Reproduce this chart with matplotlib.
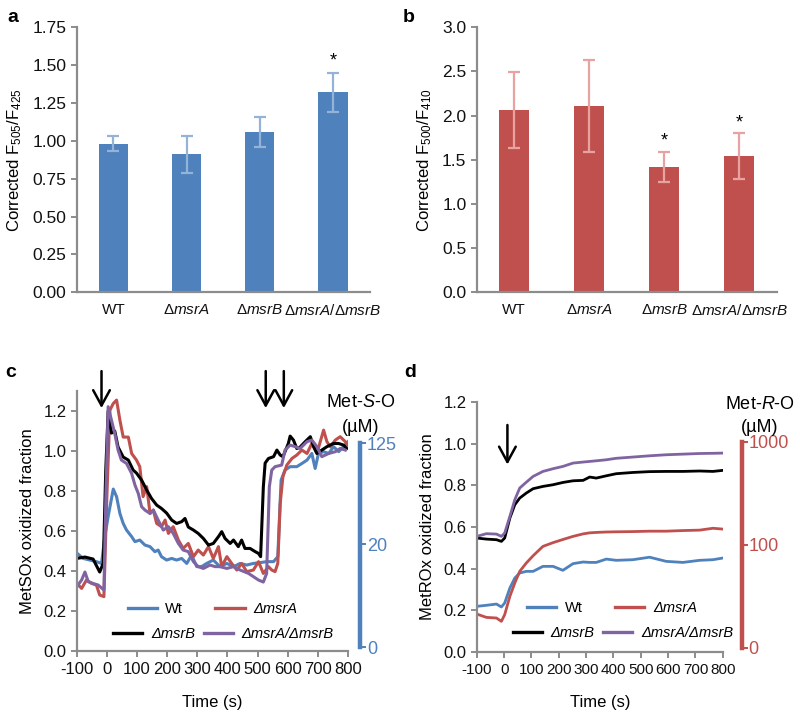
import matplotlib
matplotlib.use("Agg")
import matplotlib.pyplot as plt
from matplotlib.lines import Line2D
import numpy as np

plt.rcParams['font.family'] = ['Liberation Sans', 'DejaVu Sans']
plt.rcParams['mathtext.fontset'] = 'custom'
plt.rcParams['mathtext.rm'] = 'Liberation Sans'
plt.rcParams['mathtext.it'] = 'Liberation Sans:italic'
plt.rcParams['mathtext.bf'] = 'Liberation Sans:bold'
plt.rcParams['axes.unicode_minus'] = False

# ---- bar panels (a, b) ----
strains = ['WT', r'Δ$\mathit{msrA}$', r'Δ$\mathit{msrB}$', r'Δ$\mathit{msrA}$/Δ$\mathit{msrB}$']
a_vals = [0.98, 0.91, 1.06, 1.32]
a_errs = [0.05, 0.125, 0.10, 0.13]
a_star = [False, False, False, True]
b_vals = [2.06, 2.11, 1.42, 1.54]
b_errs = [0.43, 0.52, 0.17, 0.26]
b_star = [False, False, True, True]

# ---- panel c: Met-S-O time courses ----
c_wt_t = [-100, -79, -57, -35, -18, -7, 4, 21, 32, 43, 54, 65, 82, 93, 109, 126, 143, 159, 170, 181,
          198, 215, 231, 248, 265, 281, 298, 314, 331, 353, 375, 398, 420, 442, 464, 486, 508, 530,
          553, 567, 578, 591, 608, 630, 647, 664, 680, 691, 702, 719, 736, 752, 769, 785, 800]
c_wt_v = [0.49, 0.463, 0.455, 0.447, 0.438, 0.572, 0.672, 0.81, 0.772, 0.688, 0.638, 0.605, 0.572,
          0.547, 0.555, 0.53, 0.522, 0.497, 0.505, 0.472, 0.455, 0.463, 0.455, 0.463, 0.438, 0.48,
          0.422, 0.422, 0.438, 0.455, 0.422, 0.438, 0.422, 0.438, 0.43, 0.438, 0.442, 0.447, 0.447,
          0.472, 0.855, 0.905, 0.922, 0.922, 0.938, 0.955, 0.988, 0.913, 0.988, 0.997, 0.988, 1.022,
          0.997, 1.022, 1.047]
c_a_t = [-100, -84, -68, -51, -35, -24, -10, -1, 10, 21, 32, 43, 54, 71, 82, 98, 109, 120, 132, 143,
         154, 165, 181, 193, 204, 220, 237, 253, 270, 287, 303, 320, 337, 353, 370, 381, 398, 414,
         431, 447, 464, 486, 503, 519, 536, 547, 558, 567, 575, 584, 597, 614, 630, 647, 664, 680,
         697, 708, 719, 730, 741, 758, 774, 791, 800]
c_a_v = [0.338, 0.313, 0.355, 0.338, 0.33, 0.28, 0.272, 0.74, 1.205, 1.238, 1.255, 1.155, 1.07, 1.07,
         0.988, 0.955, 0.922, 0.772, 0.822, 0.688, 0.705, 0.638, 0.622, 0.655, 0.588, 0.622, 0.555,
         0.513, 0.538, 0.472, 0.505, 0.48, 0.522, 0.463, 0.522, 0.422, 0.472, 0.438, 0.405, 0.438,
         0.397, 0.405, 0.447, 0.388, 0.422, 0.405, 0.397, 0.438, 0.738, 0.872, 0.93, 0.963, 0.98,
         1.005, 0.988, 1.038, 0.988, 1.047, 1.105, 1.047, 1.022, 1.055, 1.072, 1.047, 1.03]
c_b_t = [-100, -73, -46, -24, -12, -4, 4, 15, 26, 37, 54, 71, 87, 98, 115, 132, 148, 165, 181, 198,
         215, 231, 248, 259, 270, 287, 303, 320, 337, 353, 370, 381, 392, 409, 420, 436, 447, 458,
         475, 492, 503, 510, 519, 525, 536, 553, 564, 575, 584, 591, 602, 608, 619, 630, 641, 658,
         675, 686, 697, 713, 730, 752, 769, 785, 796]
c_b_v = [0.463, 0.47, 0.46, 0.395, 0.44, 0.9, 1.2, 1.09, 1.10, 1.02, 0.97, 0.955, 0.905, 0.89, 0.855,
         0.805, 0.763, 0.73, 0.713, 0.69, 0.655, 0.638, 0.647, 0.663, 0.62, 0.605, 0.588, 0.563, 0.53,
         0.538, 0.572, 0.597, 0.563, 0.538, 0.555, 0.522, 0.555, 0.513, 0.513, 0.497, 0.488, 0.472,
         0.82, 0.94, 0.963, 0.972, 1.005, 0.98, 0.972, 0.997, 1.038, 1.075, 1.055, 1.013, 1.02, 1.047,
         1.072, 1.022, 0.988, 1.005, 1.022, 1.038, 1.038, 1.03, 1.013]
c_ab_t = [-100, -84, -73, -62, -46, -29, -10, -4, 4, 15, 26, 37, 48, 65, 82, 93, 104, 115, 126, 143,
          154, 170, 187, 204, 220, 237, 253, 270, 287, 303, 320, 342, 359, 375, 398, 420, 442, 470,
          486, 503, 519, 530, 539, 547, 558, 580, 591, 608, 625, 641, 664, 680, 697, 713, 736, 758,
          774, 791]
c_ab_v = [0.322, 0.355, 0.395, 0.347, 0.338, 0.33, 0.305, 0.738, 1.222, 1.155, 1.088, 1.005, 0.955,
          0.938, 0.888, 0.83, 0.788, 0.722, 0.705, 0.688, 0.705, 0.655, 0.605, 0.622, 0.588, 0.538,
          0.505, 0.497, 0.447, 0.422, 0.413, 0.43, 0.422, 0.422, 0.413, 0.422, 0.405, 0.388, 0.372,
          0.355, 0.345, 0.388, 0.822, 0.905, 0.922, 0.93, 1.005, 1.03, 1.022, 1.013, 1.047, 1.055,
          1.022, 0.972, 0.988, 0.997, 1.013, 1.005]

# ---- panel d: Met-R-O time courses ----
d_t = [-100, -65, -28, -10, 2, 21, 39, 57, 81, 106, 142, 179, 215, 252, 289, 313, 337, 374, 410, 471,
       532, 593, 654, 715, 764, 800]
d_ab_v = [0.555, 0.568, 0.566, 0.555, 0.571, 0.651, 0.731, 0.787, 0.815, 0.843, 0.867, 0.88, 0.891,
          0.907, 0.912, 0.915, 0.918, 0.923, 0.93, 0.936, 0.942, 0.947, 0.95, 0.953, 0.954, 0.955]
d_b_v = [0.547, 0.542, 0.539, 0.531, 0.547, 0.643, 0.707, 0.739, 0.763, 0.784, 0.795, 0.803, 0.814,
         0.822, 0.824, 0.84, 0.835, 0.846, 0.856, 0.862, 0.866, 0.867, 0.867, 0.869, 0.867, 0.872]
d_a_v = [0.182, 0.166, 0.163, 0.147, 0.179, 0.267, 0.331, 0.387, 0.427, 0.462, 0.507, 0.525, 0.54,
         0.555, 0.567, 0.572, 0.574, 0.576, 0.577, 0.578, 0.58, 0.58, 0.583, 0.585, 0.594, 0.59]
d_wt_v = [0.219, 0.224, 0.23, 0.216, 0.235, 0.307, 0.355, 0.379, 0.387, 0.387, 0.411, 0.411, 0.392,
          0.424, 0.432, 0.43, 0.43, 0.446, 0.44, 0.443, 0.455, 0.435, 0.43, 0.44, 0.443, 0.451]

# right-hand concentration axes: label -> position on fraction axis
c_conc_labels = ['0', '20', '125']
c_conc_pos = [0.02, 0.535, 1.04]
d_conc_labels = ['0', '100', '1000']
d_conc_pos = [0.02, 0.514, 1.01]

BLUE = '#4F81BD'
RED = '#C0504D'
PURPLE = '#8064A2'
GREY = '#8C8C8C'
FS = 11

fig = plt.figure(figsize=(8, 7.18), dpi=100)


def style(ax, size, xticks=True):
    for s in ['top', 'right']:
        ax.spines[s].set_visible(False)
    for s in ['left', 'bottom']:
        ax.spines[s].set_color(GREY)
        ax.spines[s].set_linewidth(1.6)
    ax.tick_params(axis='both', colors=GREY, width=1.4, length=4, labelsize=size, labelcolor='#111111')
    if not xticks:
        ax.tick_params(axis='x', length=0, labelsize=FS)


def bar_panel(rect, vals, errs, stars, color, ecolor, ylim, yticks, fmt, ylabel, star_pad):
    ax = fig.add_axes(rect)
    x = np.arange(len(vals))
    ax.bar(x, vals, width=0.4, color=color, zorder=2)
    ax.errorbar(x, vals, yerr=errs, fmt='none', ecolor=ecolor, elinewidth=1.6,
                capsize=4, capthick=1.6, zorder=3)
    for i, s in enumerate(stars):
        if s:
            ax.text(x[i], vals[i] + errs[i] + star_pad, '*', ha='center', va='center', fontsize=13)
    ax.set_xlim(-0.5, len(vals) - 0.5)
    ax.set_ylim(*ylim)
    ax.set_yticks(yticks)
    ax.set_yticklabels([fmt.format(v) for v in yticks])
    ax.set_xticks(x)
    ax.set_xticklabels(strains)
    ax.set_ylabel(ylabel, fontsize=12, labelpad=6)
    style(ax, 12.5, xticks=False)
    ax.tick_params(axis='x', pad=8)
    return ax


bar_panel([0.096, 0.593, 0.366, 0.369], a_vals, a_errs, a_star, BLUE, '#95B3D7',
          (0, 1.75), np.arange(0, 1.76, 0.25), '{:.2f}', r'Corrected F$_{505}$/F$_{425}$', 0.08)
bar_panel([0.596, 0.593, 0.375, 0.369], b_vals, b_errs, b_star, RED, '#E6A3A2',
          (0, 3.0), np.arange(0, 3.01, 0.5), '{:.1f}', r'Corrected F$_{500}$/F$_{410}$', 0.12)


def line_panel(rect, ylim, series, ylabel, conc_pos, conc_labels, conc_color, conc_x, arrows, arrow_y,
               lw, leg_x, leg_y, xsize):
    ax = fig.add_axes(rect)
    for t, v, col, lab in series:
        ax.plot(t, v, color=col, lw=lw, label=lab, solid_joinstyle='round')
    ax.set_xlim(-100, 800)
    ax.set_ylim(*ylim)
    ax.set_xticks(np.arange(-100, 801, 100))
    ax.set_yticks(np.arange(0, 1.21, 0.2))
    ax.set_yticklabels(['{:.1f}'.format(v) for v in np.arange(0, 1.21, 0.2)])
    ax.set_xlabel('Time (s)', fontsize=12, labelpad=13)
    ax.set_ylabel(ylabel, fontsize=12, labelpad=6)
    style(ax, 12)
    ax.tick_params(axis='x', pad=4, labelsize=xsize)
    for xa in arrows:
        ax.annotate('', xy=(xa, arrow_y[1]), xytext=(xa, arrow_y[0]), annotation_clip=False,
                    arrowprops=dict(arrowstyle='->,head_length=0.55,head_width=0.3', lw=1.8,
                                    color='black', mutation_scale=20, shrinkA=0, shrinkB=0))
    # concentration axis
    ax2 = ax.twinx()
    ax2.set_ylim(*ylim)
    for s in ['top', 'left', 'bottom']:
        ax2.spines[s].set_visible(False)
    ax2.spines['right'].set_position(('axes', conc_x))
    ax2.spines['right'].set_bounds(conc_pos[0], conc_pos[-1])
    ax2.spines['right'].set_color(conc_color)
    ax2.spines['right'].set_linewidth(3.2)
    ax2.set_yticks(conc_pos)
    ax2.set_yticklabels(conc_labels)
    ax2.tick_params(axis='y', colors=conc_color, width=1.4, length=4, labelsize=13, pad=1)
    # legend, laid out in two rows
    handles = {lab: Line2D([], [], color=col, lw=2.4) for _, _, col, lab in series}
    labs = [s[3] for s in series]
    leg1 = ax.legend([handles[labs[0]], handles[labs[1]]], labs[0:2], ncol=2, frameon=False,
                     fontsize=10.5, loc='center', bbox_to_anchor=(leg_x[0], leg_y[0]),
                     handlelength=2.0, handletextpad=0.6, columnspacing=2.2, borderpad=0)
    ax.add_artist(leg1)
    leg2 = ax.legend([handles[labs[2]], handles[labs[3]]], labs[2:4], ncol=2, frameon=False,
                     fontsize=10.5, loc='center', bbox_to_anchor=(leg_x[1], leg_y[1]),
                     handlelength=2.0, handletextpad=0.6, columnspacing=0.6, borderpad=0)
    for lg in (leg1, leg2):
        for txt in lg.get_texts():
            if txt.get_text() != 'Wt':
                txt.set_style('italic')
    return ax


line_panel([0.096, 0.0933, 0.339, 0.362], (0, 1.3),
           [(c_wt_t, c_wt_v, BLUE, 'Wt'), (c_a_t, c_a_v, RED, 'ΔmsrA'),
            (c_b_t, c_b_v, 'black', 'ΔmsrB'), (c_ab_t, c_ab_v, PURPLE, 'ΔmsrA/ΔmsrB')],
           'MetSOx oxidized fraction', c_conc_pos, c_conc_labels, BLUE, 1.044,
           [-18, 527, 587], (1.40, 1.215), 2.2, (0.50, 0.54), (0.162, 0.065), 12)

line_panel([0.596, 0.092, 0.3075, 0.348], (0, 1.2),
           [(d_t, d_wt_v, BLUE, 'Wt'), (d_t, d_a_v, RED, 'ΔmsrA'),
            (d_t, d_b_v, 'black', 'ΔmsrB'), (d_t, d_ab_v, PURPLE, 'ΔmsrA/ΔmsrB')],
           'MetROx oxidized fraction', d_conc_pos, d_conc_labels, RED, 1.077,
           [12], (1.09, 0.90), 2.0, (0.55, 0.594), (0.176, 0.076), 11)

# concentration axis titles
fig.text(0.451, 0.439, r'Met-$\mathit{S}$-O', ha='center', va='center', fontsize=13)
fig.text(0.451, 0.405, '(µM)', ha='center', va='center', fontsize=13)
fig.text(0.950, 0.437, r'Met-$\mathit{R}$-O', ha='center', va='center', fontsize=13)
fig.text(0.950, 0.405, '(µM)', ha='center', va='center', fontsize=13)

# panel letters
for lab, x, y in [('a', 0.016, 0.976), ('b', 0.511, 0.976), ('c', 0.013, 0.481), ('d', 0.513, 0.481)]:
    fig.text(x, y, lab, fontsize=14, fontweight='bold', ha='center', va='center')

fig.savefig('out.png', dpi=100)
